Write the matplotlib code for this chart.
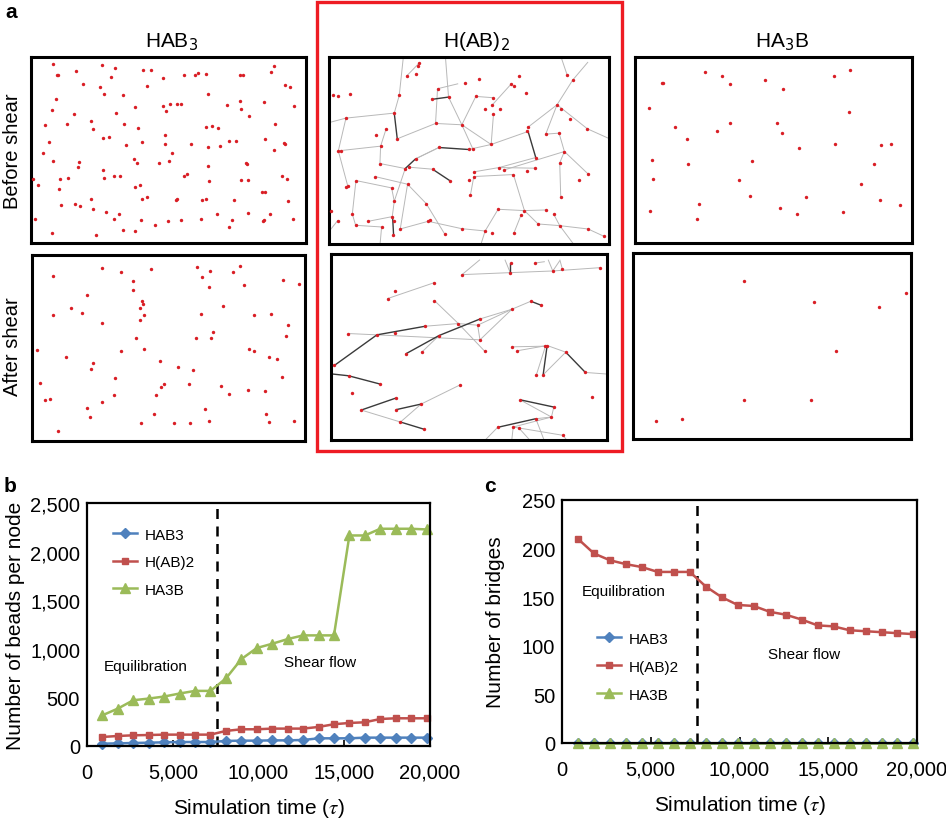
"""Bridging-network snapshots and bead / bridge counts during shear."""
import matplotlib
matplotlib.use("Agg")
import matplotlib.pyplot as plt  # noqa: E402
from matplotlib.patches import Rectangle  # noqa: E402
from matplotlib.collections import LineCollection  # noqa: E402
from matplotlib.ticker import FuncFormatter  # noqa: E402

plt.rcParams["font.family"] = ["Liberation Sans", "DejaVu Sans"]

W, H = 946, 820

# ---- panel b / c data -------------------------------------------------------
time_tau = [900, 1800, 2700, 3600, 4500, 5400, 6300, 7200, 8100, 9000, 9900,
            10800, 11700, 12600, 13500, 14400, 15300, 16200, 17100, 18000,
            18900, 19800]
beads_hab3 = [24, 27, 31, 34, 38, 41, 41, 41, 52, 55, 55, 58, 58, 62, 79, 79,
              79, 86, 86, 86, 86, 86]
beads_hab2 = [93, 103, 110, 113, 117, 117, 117, 117, 155, 172, 172, 179, 179,
              179, 196, 224, 237, 244, 278, 285, 285, 285]
beads_ha3b = [316, 385, 471, 488, 509, 540, 567, 567, 695, 894, 1008, 1052,
              1100, 1138, 1138, 1138, 2166, 2166, 2235, 2235, 2235, 2228]
bridges_hab3 = [0, 0, 0, 0, 0, 0, 0, 0, 0, 0, 0, 0, 0, 0, 0, 0, 0, 0, 0, 0, 0, 0]
bridges_hab2 = [210, 195, 188, 184, 181, 176, 176, 176, 161, 150, 142, 141,
                135, 132, 127, 121, 120, 116, 115, 114, 113, 112]
bridges_ha3b = [0, 0, 0, 0, 0, 0, 0, 0, 0, 0, 0, 0, 0, 0, 0, 0, 0, 0, 0, 0, 0, 0]
shear_start = 7600
series_names = ["HAB3", "H(AB)2", "HA3B"]

# ---- panel a data: node positions (snapshot units) and bridges --------------
cell_hab3_before = (93, 175, 917, 733)
nodes_hab3_before = [
    (158, 195), (305, 199), (344, 208), (430, 213), (452, 213), (822, 203),
    (170, 228), (174, 229), (228, 218), (333, 236), (490, 237), (550, 229),
    (584, 230), (592, 222), (616, 226), (720, 229), (727, 229), (813, 219),
    (248, 256), (300, 266), (313, 285), (441, 262), (370, 288), (624, 286),
    (853, 258), (869, 264), (167, 301), (155, 333), (406, 325), (488, 323),
    (498, 338), (510, 316), (530, 316), (542, 315), (680, 320), (720, 308),
    (722, 331), (790, 310), (880, 321), (223, 346), (349, 344), (745, 353),
    (134, 380), (202, 376), (273, 368), (278, 392), (373, 376), (415, 388),
    (616, 386), (634, 382), (654, 389), (824, 376), (146, 429), (309, 419),
    (327, 414), (379, 440), (426, 430), (496, 410), (496, 436), (572, 437),
    (624, 446), (658, 443), (686, 427), (706, 427), (794, 420), (852, 432),
    (855, 435), (130, 462), (158, 487), (235, 505), (238, 490), (402, 480),
    (410, 494), (477, 493), (505, 488), (514, 462), (622, 503), (736, 493),
    (739, 497), (822, 454), (98, 540), (114, 559), (179, 540), (205, 537),
    (308, 514), (311, 539), (341, 533), (359, 532), (404, 564), (420, 559),
    (551, 533), (560, 526), (627, 548), (721, 545), (742, 545), (846, 531),
    (861, 540), (178, 571), (183, 620), (224, 617), (240, 623), (272, 602),
    (278, 630), (317, 639), (358, 646), (425, 600), (440, 595), (526, 605),
    (529, 601), (606, 605), (616, 600), (701, 604), (784, 581), (795, 579),
    (862, 606), (105, 660), (157, 702), (288, 710), (342, 662), (368, 694),
    (404, 696), (422, 664), (466, 678), (504, 667), (542, 664), (601, 661),
    (650, 645), (686, 686), (696, 664), (744, 642), (787, 667), (792, 665),
    (810, 647), (878, 661),
]

cell_hab3_after = (95, 47, 915, 607)
nodes_hab3_after = [
    (158, 110), (305, 87), (363, 97), (452, 88), (590, 82), (606, 114),
    (630, 96), (700, 97), (721, 81), (732, 137), (850, 121), (897, 134),
    (399, 126), (397, 151), (628, 142), (261, 168), (425, 185), (427, 196),
    (420, 208), (431, 227), (418, 244), (213, 207), (245, 222), (157, 227),
    (305, 253), (669, 202), (603, 226), (762, 228), (814, 224), (865, 257),
    (640, 279), (634, 297), (587, 296), (408, 296), (857, 292), (110, 333),
    (196, 353), (362, 337), (430, 329), (748, 330), (761, 335), (808, 355),
    (831, 359), (278, 371), (272, 389), (479, 366), (535, 383), (578, 394),
    (120, 432), (343, 416), (566, 436), (490, 436), (482, 444), (662, 440),
    (845, 415), (744, 453), (796, 455), (133, 483), (150, 480), (341, 467),
    (467, 469), (687, 466), (304, 490), (259, 509), (269, 535), (461, 527),
    (616, 510), (799, 527), (423, 553), (521, 554), (570, 553), (628, 547),
    (806, 551), (882, 547), (172, 578),
]

cell_hab2_before = (42, 175, 883, 735)
nodes_hab2_before = [
    (313, 193), (310, 203), (275, 232), (304, 227), (450, 253), (493, 241),
    (590, 255), (597, 261), (614, 232), (757, 228), (774, 244), (54, 290),
    (70, 293), (106, 285), (368, 270), (350, 302), (401, 295), (483, 293),
    (536, 297), (635, 282), (253, 290), (531, 320), (511, 331), (556, 330),
    (536, 347), (727, 318), (738, 331), (93, 358), (238, 343), (362, 374),
    (441, 378), (767, 362), (818, 390), (213, 392), (182, 410), (247, 420),
    (640, 385), (638, 398), (693, 406), (733, 403), (70, 456), (78, 456),
    (197, 442), (372, 446), (461, 452), (474, 450), (529, 437), (749, 458),
    (663, 476), (195, 494), (271, 509), (283, 505), (302, 480), (353, 511),
    (406, 546), (477, 519), (464, 542), (477, 533), (553, 506), (569, 513),
    (596, 527), (637, 517), (660, 508), (735, 492), (820, 525), (793, 543),
    (123, 545), (180, 533), (98, 560), (93, 565), (230, 567), (278, 556),
    (238, 607), (334, 614), (467, 587), (738, 593), (49, 637), (112, 645),
    (68, 665), (160, 667), (232, 653), (236, 665), (340, 667), (344, 663),
    (122, 679), (200, 684), (256, 690), (440, 689), (511, 696), (533, 703),
    (550, 631), (629, 635), (695, 633), (717, 646), (619, 648), (670, 675),
    (735, 680), (233, 708), (390, 706), (597, 703), (820, 690), (868, 712),
]
bonds_hab2_before = [
    ((265, 178), (253, 290)), ((313, 193), (275, 232)), ((253, 290), (238, 343)),
    ((213, 392), (197, 442)), ((247, 420), (362, 374)), ((362, 374), (368, 270)),
    ((368, 270), (430, 255)), ((362, 374), (441, 378)), ((441, 378), (483, 293)),
    ((441, 378), (401, 295)), ((441, 378), (529, 437)), ((441, 378), (474, 450)),
    ((483, 293), (536, 297)), ((590, 255), (531, 320)), ((536, 347), (529, 437)),
    ((529, 437), (640, 398)), ((727, 318), (693, 406)), ((727, 318), (774, 244)),
    ((774, 244), (820, 190)), ((727, 318), (818, 390)), ((693, 406), (733, 403)),
    ((733, 403), (749, 458)), ((749, 458), (820, 525)), ((749, 458), (569, 513)),
    ((663, 476), (553, 506)), ((735, 492), (738, 593)), ((70, 456), (197, 442)),
    ((70, 456), (93, 358)), ((93, 358), (40, 372)), ((70, 456), (98, 560)),
    ((197, 442), (195, 494)), ((195, 494), (271, 509)), ((283, 505), (353, 511)),
    ((372, 446), (302, 480)), ((461, 452), (529, 437)), ((477, 519), (553, 506)),
    ((477, 533), (596, 527)), ((596, 527), (629, 635)), ((467, 587), (477, 533)),
    ((123, 545), (230, 567)), ((180, 533), (278, 556)), ((230, 567), (238, 607)),
    ((238, 607), (232, 653)), ((278, 556), (256, 690)), ((278, 556), (334, 614)),
    ((334, 614), (390, 706)), ((123, 545), (112, 645)), ((112, 645), (122, 679)),
    ((160, 667), (232, 653)), ((68, 665), (40, 700)), ((122, 679), (200, 684)),
    ((200, 684), (195, 740)), ((256, 690), (340, 667)), ((340, 667), (440, 689)),
    ((440, 689), (511, 696)), ((511, 696), (550, 631)), ((550, 631), (629, 635)),
    ((629, 635), (695, 633)), ((629, 635), (670, 675)), ((670, 675), (735, 680)),
    ((717, 646), (735, 680)), ((619, 648), (597, 703)), ((735, 680), (820, 690)),
    ((820, 690), (868, 712)), ((392, 178), (401, 295)), ((640, 385), (727, 318)),
    ((735, 492), (749, 458)), ((740, 178), (757, 228)), ((271, 509), (238, 607)),
    ((497, 740), (511, 696)), ((780, 740), (735, 680)), ((818, 390), (885, 420)),
    ((302, 480), (372, 446)), ((553, 506), (660, 508)), ((93, 358), (238, 343)),
]
bridges_hab2_before = [
    ((238, 343), (247, 420)), ((350, 302), (401, 295)), ((372, 446), (461, 452)),
    ((353, 511), (406, 546)), ((271, 509), (302, 480)), ((640, 398), (663, 476)),
    ((233, 653), (236, 708)),
]

cell_hab2_after = (47, 45, 877, 604)
nodes_hab2_after = [
    (441, 107), (587, 73), (586, 101), (661, 72), (714, 96), (743, 91),
    (857, 86), (358, 131), (239, 156), (217, 179), (358, 185), (648, 187),
    (679, 199), (591, 211), (496, 240), (430, 254), (488, 259), (331, 262),
    (99, 284), (185, 288), (238, 283), (372, 290), (495, 303), (509, 337),
    (272, 345), (321, 339), (591, 324), (606, 336), (692, 322), (697, 320),
    (753, 340), (664, 410), (685, 408), (812, 401), (57, 380), (100, 411),
    (195, 436), (111, 462), (436, 438), (832, 474), (242, 478), (318, 496),
    (138, 514), (242, 513), (256, 550), (328, 572), (615, 483), (717, 505),
    (710, 535), (663, 540), (548, 566), (595, 565), (613, 569), (745, 590),
]
bonds_hab2_after = [
    ((441, 107), (495, 62)), ((441, 107), (586, 101)), ((586, 101), (714, 96)),
    ((714, 96), (857, 86)), ((570, 62), (586, 101)), ((714, 96), (700, 62)),
    ((743, 91), (735, 62)), ((661, 72), (690, 68)), ((714, 96), (735, 65)),
    ((217, 179), (358, 131)), ((99, 284), (185, 288)), ((185, 288), (495, 303)),
    ((358, 185), (430, 254)), ((430, 254), (509, 337)), ((331, 262), (430, 254)),
    ((430, 254), (488, 259)), ((488, 259), (495, 303)), ((488, 259), (591, 211)),
    ((496, 240), (591, 211)), ((591, 211), (648, 187)), ((321, 339), (372, 290)),
    ((495, 303), (591, 211)), ((591, 324), (692, 322)), ((606, 336), (697, 320)),
    ((692, 322), (664, 410)), ((697, 320), (753, 340)), ((753, 340), (685, 408)),
    ((812, 401), (880, 406)), ((138, 514), (256, 550)), ((318, 496), (436, 438)),
    ((256, 550), (318, 496)), ((710, 535), (595, 565)), ((717, 505), (710, 535)),
    ((663, 540), (690, 610)), ((595, 565), (745, 590)), ((613, 569), (650, 610)),
    ((548, 566), (505, 610)), ((595, 565), (590, 610)), ((745, 590), (760, 610)),
    ((710, 535), (663, 540)), ((615, 483), (710, 535)),
]
bridges_hab2_after = [
    ((586, 73), (586, 101)), ((57, 380), (185, 288)), ((185, 288), (331, 262)),
    ((272, 345), (372, 290)), ((372, 290), (496, 240)), ((648, 187), (679, 199)),
    ((697, 320), (685, 408)), ((753, 340), (812, 401)), ((45, 405), (100, 411)),
    ((100, 411), (195, 436)), ((138, 514), (242, 478)), ((242, 513), (318, 496)),
    ((256, 550), (328, 572)), ((615, 483), (717, 505)), ((548, 566), (663, 540)),
]

cell_ha3b_before = (30, 175, 860, 733)
nodes_ha3b_before = [
    (240, 221), (292, 232), (315, 255), (110, 252), (113, 253), (421, 245),
    (474, 272), (627, 232), (674, 215), (72, 328), (671, 341), (151, 384),
    (315, 372), (276, 397), (454, 374), (470, 403), (187, 420), (522, 449),
    (630, 437), (768, 440), (797, 437), (81, 483), (190, 495), (382, 486),
    (747, 497), (84, 542), (342, 544), (708, 555), (375, 592), (541, 595),
    (222, 616), (765, 605), (825, 618), (75, 636), (465, 628), (516, 646),
    (653, 640), (215, 660),
]

cell_ha3b_after = (25, 43, 857, 600)
nodes_ha3b_after = [
    (358, 126), (566, 190), (762, 206), (841, 163), (632, 335), (358, 484),
    (559, 484), (94, 546), (173, 541),
]

NODE = "#d91e25"
BLUE, RED, GREEN = "#4f81bd", "#c0504d", "#9bbb59"


def px_rect(l, t, r, b):
    return [l / W, 1 - b / H, (r - l) / W, (b - t) / H]


def draw_cell(fig, rect, cell, nodes, bonds=(), bridges=()):
    ax = fig.add_axes(px_rect(*rect))
    x0, y0, x1, y1 = cell
    if bonds:
        ax.add_collection(LineCollection(bonds, colors="#b8b8b8", linewidths=0.7))
    if bridges:
        ax.add_collection(LineCollection(bridges, colors="#3a3a3a", linewidths=1.0))
    ax.scatter([p[0] for p in nodes], [p[1] for p in nodes], s=6, color=NODE,
               linewidths=0, zorder=3)
    ax.set_xlim(x0, x1)
    ax.set_ylim(y1, y0)
    ax.set_xticks([])
    ax.set_yticks([])
    for sp in ax.spines.values():
        sp.set_linewidth(2.2)
    return ax


def style_timeline(ax):
    ax.set_xlim(0, 20000)
    ax.set_xticks([0, 5000, 10000, 15000, 20000])
    ax.xaxis.set_major_formatter(FuncFormatter(lambda v, p: f"{int(v):,}"))
    ax.tick_params(axis="x", direction="in", length=4, width=1.2, pad=12,
                   labelsize=14.5)
    ax.tick_params(axis="y", length=0, pad=5, labelsize=14.5)
    for sp in ax.spines.values():
        sp.set_linewidth(1.6)
        sp.set_zorder(4)
    ax.axvline(shear_start, color="black", ls=(0, (4, 3)), lw=1.8, zorder=1)
    ax.set_xlabel(r"Simulation time ($\tau$)", fontsize=15, labelpad=10,
                  math_fontfamily="stix")


def plot_series(ax, ys):
    styles = [("D", BLUE, 5), ("s", RED, 5), ("^", GREEN, 7)]
    for y, name, (mk, col, ms) in zip(ys, series_names, styles):
        ax.plot(time_tau, y, "-" + mk, color=col, lw=1.8, ms=ms, label=name,
                clip_on=False, zorder=3)


fig = plt.figure(figsize=(W / 100, H / 100), dpi=100)

# ---- panel a ----------------------------------------------------------------
draw_cell(fig, (31, 58, 306, 244), cell_hab3_before, nodes_hab3_before)
draw_cell(fig, (329, 58, 609, 245), cell_hab2_before, nodes_hab2_before,
          bonds_hab2_before, bridges_hab2_before)
draw_cell(fig, (635, 58, 912, 244), cell_ha3b_before, nodes_ha3b_before)
draw_cell(fig, (32, 256, 305, 442), cell_hab3_after, nodes_hab3_after)
draw_cell(fig, (331, 255, 607, 441), cell_hab2_after, nodes_hab2_after,
          bonds_hab2_after, bridges_hab2_after)
draw_cell(fig, (633, 254, 911, 440), cell_ha3b_after, nodes_ha3b_after)

fig.patches.append(Rectangle((317 / W, 1 - 452 / H), 305 / W, 449 / H,
                             transform=fig.transFigure, fill=False,
                             edgecolor="#ee1c24", linewidth=2.4))

for label, xc in [("HAB$_3$", 172), ("H(AB)$_2$", 476), ("HA$_3$B", 782)]:
    fig.text(xc / W, 1 - 47 / H, label, ha="center", va="baseline",
             fontsize=15, math_fontfamily="dejavusans")
fig.text(13 / W, 1 - 151 / H, "Before shear", rotation=90, ha="center",
         va="center", fontsize=14.5)
fig.text(13 / W, 1 - 347 / H, "After shear", rotation=90, ha="center",
         va="center", fontsize=14.5)

fig.text(5 / W, 1 - 13 / H, "a", fontsize=15, fontweight="bold", va="center")
fig.text(4 / W, 1 - 487 / H, "b", fontsize=15, fontweight="bold", va="center")
fig.text(484 / W, 1 - 487 / H, "c", fontsize=15, fontweight="bold", va="center")

# ---- panel b ----------------------------------------------------------------
axb = fig.add_axes(px_rect(87, 504, 430, 747))
plot_series(axb, [beads_hab3, beads_hab2, beads_ha3b])
axb.set_ylim(0, 2500)
axb.set_yticks([0, 500, 1000, 1500, 2000, 2500])
axb.yaxis.set_major_formatter(FuncFormatter(lambda v, p: f"{int(v):,}"))
style_timeline(axb)
axb.set_ylabel("Number of beads per node", fontsize=15, labelpad=4)
axb.text(3400, 818, "Equilibration", ha="center", va="center", fontsize=11)
axb.text(13600, 866, "Shear flow", ha="center", va="center", fontsize=11)
axb.legend(loc="upper left", bbox_to_anchor=(0.035, 0.955), frameon=False,
           fontsize=11, handlelength=1.6, handletextpad=0.5, labelspacing=0.88)

# ---- panel c ----------------------------------------------------------------
axc = fig.add_axes(px_rect(562, 501, 917, 744))
plot_series(axc, [bridges_hab3, bridges_hab2, bridges_ha3b])
axc.set_ylim(0, 250)
axc.set_yticks([0, 50, 100, 150, 200, 250])
style_timeline(axc)
axc.set_ylabel("Number of bridges", fontsize=15, labelpad=12)
axc.text(3500, 156, "Equilibration", ha="center", va="center", fontsize=11)
axc.text(13650, 92, "Shear flow", ha="center", va="center", fontsize=11)
axc.legend(loc="upper left", bbox_to_anchor=(0.06, 0.515), frameon=False,
           fontsize=11, handlelength=1.6, handletextpad=0.5, labelspacing=0.92)

fig.savefig("out.png", dpi=100)
plt.close(fig)
